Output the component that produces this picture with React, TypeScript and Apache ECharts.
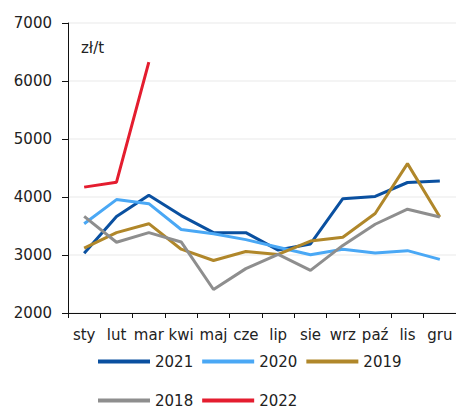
import React, { useEffect, useRef } from "react";
import * as echarts from "echarts";

const months = ["sty", "lut", "mar", "kwi", "maj", "cze", "lip", "sie", "wrz", "paź", "lis", "gru"];
const s2021 = [3030, 3665, 4030, 3680, 3385, 3385, 3085, 3190, 3970, 4010, 4250, 4275];
const s2020 = [3540, 3955, 3885, 3440, 3365, 3265, 3135, 3005, 3100, 3035, 3075, 2925];
const s2019 = [3120, 3385, 3540, 3100, 2905, 3060, 3010, 3240, 3305, 3715, 4575, 3655];
const s2018 = [3665, 3220, 3385, 3225, 2405, 2765, 3010, 2735, 3165, 3530, 3790, 3655];
const s2022 = [4170, 4255, 6325];
const yTicks = { min: 2000, max: 7000, interval: 1000 };
const unitLabel = "zł/t";

const FONT = "DejaVu Sans";

export default function App() {
  const ref = useRef<HTMLDivElement>(null);
  useEffect(() => {
    if (!ref.current) return;
    const chart = echarts.init(ref.current, null, { renderer: "svg" });
    const mk = (name: string, data: number[], color: string) => ({
      name,
      type: "line",
      data,
      symbol: "none",
      lineStyle: { width: 3, color },
      itemStyle: { color },
    });
    const legendCommon = {
      icon: "rect",
      itemWidth: 52,
      itemHeight: 4,
      itemGap: 9,
      orient: "horizontal",
      left: 98,
      padding: 0,
      textStyle: { fontFamily: FONT, fontSize: 15, color: "#222" },
    };
    chart.setOption({
      animation: false,
      backgroundColor: "#fff",
      grid: { left: 68, top: 23, width: 392, height: 290 },
      xAxis: {
        type: "category",
        data: months,
        boundaryGap: true,
        axisLine: { lineStyle: { color: "#111", width: 1 } },
        axisTick: { show: true, length: 5, lineStyle: { color: "#111" } },
        axisLabel: { fontFamily: FONT, fontSize: 15, color: "#222", margin: 14, interval: 0 },
        splitLine: { show: false },
      },
      yAxis: {
        type: "value",
        min: yTicks.min,
        max: yTicks.max,
        interval: yTicks.interval,
        axisLine: { show: true, lineStyle: { color: "#111", width: 1 } },
        axisTick: { show: true, length: 6, lineStyle: { color: "#111" } },
        axisLabel: {
          fontFamily: FONT,
          fontSize: 15,
          color: "#222",
          margin: 16,
          formatter: (v: number) => String(v),
        },
        splitLine: { show: true, lineStyle: { color: "#f0f0f0", width: 1.5 } },
      },
      legend: [
        { ...legendCommon, top: 354, data: ["2021", "2020", "2019"] },
        { ...legendCommon, top: 393, data: ["2018", "2022"] },
      ],
      graphic: [
        {
          type: "text",
          left: 81,
          top: 40,
          style: { text: unitLabel, fontFamily: FONT, fontSize: 15, fill: "#222" },
        },
      ],
      series: [
        mk("2021", s2021, "#0a50a0"),
        mk("2020", s2020, "#4aa8f5"),
        mk("2019", s2019, "#b0872a"),
        mk("2018", s2018, "#8e8e8e"),
        mk("2022", s2022, "#e41d2f"),
      ],
    });
    return () => chart.dispose();
  }, []);
  return (
    <div
      ref={ref}
      style={{ position: "absolute", left: 0, top: 0, width: 456, height: 408 }}
    />
  );
}
